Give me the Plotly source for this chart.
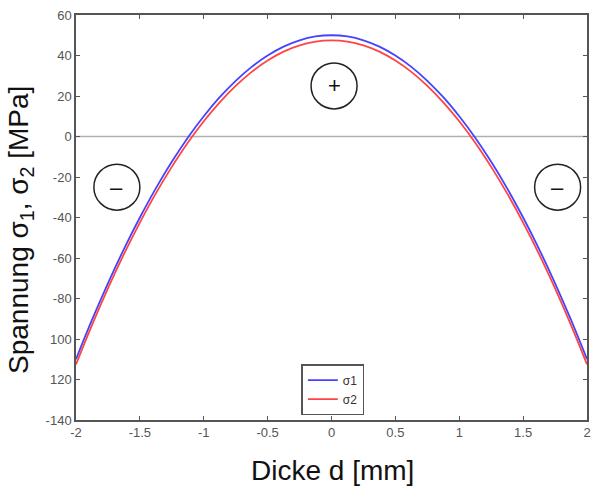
import plotly.graph_objects as go

# thickness positions [mm]
d = [-2.0, -1.875, -1.75, -1.625, -1.5, -1.375, -1.25, -1.125, -1.0, -0.875, -0.75, -0.625,
     -0.5, -0.375, -0.25, -0.125, 0.0, 0.125, 0.25, 0.375, 0.5, 0.625, 0.75, 0.875,
     1.0, 1.125, 1.25, 1.375, 1.5, 1.625, 1.75, 1.875, 2.0]
# stress values [MPa]
sigma1 = [-110, -90.6, -72.5, -55.6, -40, -25.6, -12.5, -0.6, 10, 19.4, 27.5, 34.4,
          40, 44.4, 47.5, 49.4, 50, 49.4, 47.5, 44.4, 40, 34.4, 27.5, 19.4,
          10, -0.6, -12.5, -25.6, -40, -55.6, -72.5, -90.6, -110]
sigma2 = [-112.5, -93.1, -75, -58.1, -42.5, -28.1, -15, -3.1, 7.5, 16.9, 25, 31.9,
          37.5, 41.9, 45, 46.9, 47.5, 46.9, 45, 41.9, 37.5, 31.9, 25, 16.9,
          7.5, -3.1, -15, -28.1, -42.5, -58.1, -75, -93.1, -112.5]
names = ["σ1", "σ2"]

x_ticks = [-2, -1.5, -1, -0.5, 0, 0.5, 1, 1.5, 2]
x_ticktext = ["-2", "-1.5", "-1", "-0.5", "0", "0.5", "1", "1.5", "2"]
y_ticks = [60, 40, 20, 0, -20, -40, -60, -80, -100, -120, -140]
# labels as printed in the reference picture
y_ticktext = ["60", "40", "20", "0", "-20", "-40", "-60", "-80", "100", "120", "-140"]

# sign markers: (x, y, symbol)
sign_x = [-1.68, 0.02, 1.77]
sign_y = [-25, 25, -25]
sign_txt = ["–", "+", "–"]

fig = go.Figure()
fig.add_trace(go.Scatter(x=d, y=sigma1, mode="lines", name=names[0],
                         line=dict(color="#4444ff", width=1.8, shape="spline")))
fig.add_trace(go.Scatter(x=d, y=sigma2, mode="lines", name=names[1],
                         line=dict(color="#ff4444", width=1.8, shape="spline")))

# zero line
fig.add_shape(type="line", xref="paper", x0=0, x1=1, yref="y", y0=0, y1=0,
              line=dict(color="#b0b0b0", width=1.5), layer="below")

for sx, sy, st in zip(sign_x, sign_y, sign_txt):
    fig.add_shape(type="circle", xref="x", yref="y",
                  xsizemode="pixel", ysizemode="pixel",
                  xanchor=sx, yanchor=sy, x0=-23, x1=23, y0=-23, y1=23,
                  line=dict(color="#222222", width=1.5))
    fig.add_annotation(x=sx, y=sy, text=st, showarrow=False,
                       font=dict(family="Liberation Sans, Arial", size=22, color="#111111"))

axis_common = dict(showline=True, linecolor="#555555", linewidth=1.5, mirror="ticks",
                   ticks="inside", ticklen=4, tickcolor="#555555", showgrid=False,
                   zeroline=False,
                   tickfont=dict(family="Liberation Sans, Arial", size=13, color="#555555"))

fig.update_xaxes(range=[-2, 2], tickvals=x_ticks, ticktext=x_ticktext, **axis_common)
fig.update_yaxes(range=[-140, 60], tickvals=y_ticks, ticktext=y_ticktext, **axis_common)

fig.add_annotation(xref="paper", yref="paper", x=-0.109, y=0.47,
                   xanchor="center", yanchor="middle",
                   text="Spannung σ<sub>1</sub>, σ<sub>2</sub> [MPa]", textangle=-90,
                   showarrow=False,
                   font=dict(family="Liberation Sans, Arial", size=28, color="#111111"))
fig.add_annotation(xref="paper", yref="paper", x=0.501, y=-0.125,
                   text="Dicke d [mm]", showarrow=False, xanchor="center", yanchor="middle",
                   font=dict(family="Liberation Sans, Arial", size=28, color="#111111"))

fig.update_layout(
    width=593, height=486,
    margin=dict(l=76, r=2, t=15, b=66),
    plot_bgcolor="white", paper_bgcolor="white",
    showlegend=True,
    legend=dict(x=0.441, y=0.138, xanchor="left", yanchor="top",
                bordercolor="#555555", borderwidth=1.5, bgcolor="white",
                font=dict(family="Liberation Sans, Arial", size=12, color="#333333"),
                tracegroupgap=0, itemwidth=30),
)

fig.write_html("out.html")
